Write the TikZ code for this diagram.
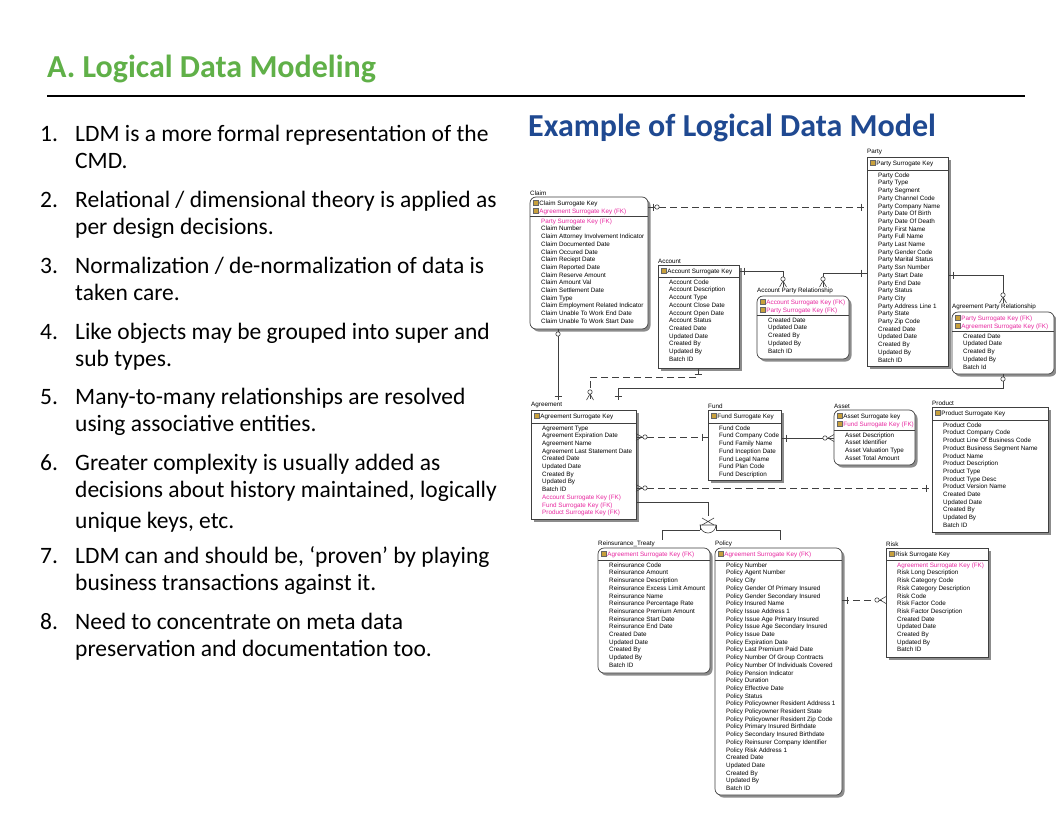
\documentclass[tikz,border=0pt]{standalone}
\usepackage{fontspec}
\setmainfont{Carlito}
\newfontfamily\erdf{Liberation Sans}
\definecolor{ttlgreen}{RGB}{96,176,72}
\definecolor{ttlblue}{RGB}{31,73,145}
\definecolor{fkpink}{RGB}{232,40,160}
\definecolor{keyc}{RGB}{200,160,60}
\tikzset{
 ebox/.style={draw=black!75,line width=0.7pt,fill=white},
 eshadow/.style={fill=black!45,draw=none},
 etxt/.style={anchor=north west,inner sep=0pt,align=left,font=\erdf\fontsize{6.3}{7.7}\selectfont},
 ettl/.style={anchor=south west,inner sep=0pt,font=\erdf\fontsize{6.3}{7.7}\selectfont},
 rel/.style={line width=0.6pt,black!75},
 reld/.style={rel,dash pattern=on 7pt off 4pt},
 item/.style={anchor=base west,inner sep=0pt,font=\fontsize{23.5}{26}\selectfont},
}
\newcommand\kk{\tikz[baseline=0pt]\fill[keyc,draw=black!60,line width=0.2pt](0,0) rectangle (5pt,5pt);\,}
\newcommand\fk[1]{\textcolor{fkpink}{#1}}
% #1 name #2 title #3 x1 #4 y1 #5 x2 #6 y2 #7 ydiv #8 keys #9 attrs
\newcommand\ent[9]{%
 \fill[eshadow,rounded corners=\ecr] (#3+2.5,#4+2.5) rectangle (#5+2.5,#6+2.5);
 \draw[ebox,rounded corners=\ecr] (#3,#4) rectangle (#5,#6);
 \draw[ebox] (#3,#7) -- (#5,#7);
 \node[ettl] (#1t) at (#3,#4-1.5) {#2};
 \node[etxt] (#1k) at (#3+3,#4+3) {#8};
 \node[etxt] (#1a) at (#3+11,#7+2.5) {#9};
}
\def\ecr{0pt}
\newcommand\mbH[2]{\draw[rel] (#1,#2-3.5) -- (#1,#2+3.5);}
\newcommand\mbV[2]{\draw[rel] (#1-3.5,#2) -- (#1+3.5,#2);}
\newcommand\zc[2]{\draw[rel,fill=white] (#1,#2) circle (2.2);}
\newcommand\crR[2]{\draw[rel] (#1-6,#2) -- (#1,#2-3.5) (#1-6,#2) -- (#1,#2+3.5);}
\newcommand\crL[2]{\draw[rel] (#1+6,#2) -- (#1,#2-3.5) (#1+6,#2) -- (#1,#2+3.5);}
\newcommand\crD[2]{\draw[rel] (#1,#2-6) -- (#1-3.5,#2) (#1,#2-6) -- (#1+3.5,#2);}
\begin{document}
\begin{tikzpicture}[x=1pt,y=-1pt]
\useasboundingbox (0,0) rectangle (1056,816);
\fill[white] (0,0) rectangle (1056,816);
% titles
\node[anchor=base west,inner sep=0pt,text=ttlgreen,font=\bfseries\fontsize{32}{36}\selectfont] (ttl) at (47,77) {A. Logical Data Modeling};
\draw[line width=2.6pt] (47,96) -- (1025,96);
\node[anchor=base west,inner sep=0pt,text=ttlblue,font=\bfseries\fontsize{32}{36}\selectfont] (sub) at (528,136) {Example of Logical Data Model};
% list
\foreach \n/\y/\t in {1./141/{LDM is a more formal representation of the}, /168/CMD., 2./207/{Relational / dimensional theory is applied as}, /234/{per design decisions.}, 3./273/{Normalization / de-normalization of data is}, /300/{taken care.}, 4./339/{Like objects may be grouped into super and}, /366/sub types., 5./404/{Many-to-many relationships are resolved}, /431/{using associative entities.}, 6./470/{Greater complexity is usually added as}, /497/{decisions about history maintained, logically}, /528/{unique keys, etc.}, 7./563/{LDM can and should be, ‘proven’ by playing}, /590/{business transactions against it.}, 8./629/{Need to concentrate on meta data}, /656/{preservation and documentation too.}}{
 \node[item] at (40,\y) {\n};
 \node[item] at (75,\y) {\t};
}
% entities
\def\ecr{6pt}
\ent{claim}{Claim}{530}{197}{648}{329}{216}{\kk Claim Surrogate Key\\\kk\fk{Agreement Surrogate Key (FK)}}{\fk{Party Surrogate Key (FK)}\\Claim Number\\Claim Attorney Involvement Indicator\\Claim Documented Date\\Claim Occured Date\\Claim Reciept Date\\Claim Reported Date\\Claim Reserve Amount\\Claim Amount Val\\Claim Settlement Date\\Claim Type\\Claim Employment Related Indicator\\Claim Unable To Work End Date\\Claim Unable To Work Start Date}
\def\ecr{0pt}
\ent{acc}{Account}{658}{265}{739}{368}{277}{\kk Account Surrogate Key}{Account Code\\Account Description\\Account Type\\Account Close Date\\Account Open Date\\Account Status\\Created Date\\Updated Date\\Created By\\Updated By\\Batch ID}
\def\ecr{6pt}
\ent{apr}{Account Party Relationship}{757}{296}{849}{359}{315}{\kk\fk{Account Surrogate Key (FK)}\\\kk\fk{Party Surrogate Key (FK)}}{Created Date\\Updated Date\\Created By\\Updated By\\Batch ID}
\def\ecr{0pt}
\ent{party}{Party}{867}{157}{948}{366}{170}{\kk Party Surrogate Key}{Party Code\\Party Type\\Party Segment\\Party Channel Code\\Party Company Name\\Party Date Of Birth\\Party Date Of Death\\Party First Name\\Party Full Name\\Party Last Name\\Party Gender Code\\Party Marital Status\\Party Ssn Number\\Party Start Date\\Party End Date\\Party Status\\Party City\\Party Address Line 1\\Party State\\Party Zip Code\\Created Date\\Updated Date\\Created By\\Updated By\\Batch ID}
\def\ecr{6pt}
\ent{agpr}{Agreement Party Relationship}{952}{312}{1054}{374}{331}{\kk\fk{Party Surrogate Key (FK)}\\\kk\fk{Agreement Surrogate Key (FK)}}{Created Date\\Updated Date\\Created By\\Updated By\\Batch Id}
\def\ecr{0pt}
\ent{agr}{Agreement}{531}{410}{636}{519}{423}{\kk Agreement Surrogate Key}{Agreement Type\\Agreement Expiration Date\\Agreement Name\\Agreement Last Statement Date\\Created Date\\Updated Date\\Created By\\Updated By\\Batch ID\\\fk{Account Surrogate Key (FK)}\\\fk{Fund Surrogate Key (FK)}\\\fk{Product Surrogate Key (FK)}}
\ent{fund}{Fund}{708}{410}{781}{480}{423}{\kk Fund Surrogate Key}{Fund Code\\Fund Company Code\\Fund Family Name\\Fund Inception Date\\Fund Legal Name\\Fund Plan Code\\Fund Description}
\def\ecr{6pt}
\ent{asset}{Asset}{834}{410}{915}{465}{430}{\kk Asset Surrogate key\\\kk\fk{Fund Surrogate Key (FK)}}{Asset Description\\Asset Identifier\\Asset Valuation Type\\Asset Total Amount}
\def\ecr{0pt}
\ent{prod}{Product}{932}{407}{1048}{532}{420}{\kk Product Surrogate Key}{Product Code\\Product Company Code\\Product Line Of Business Code\\Product Business Segment Name\\Product Name\\Product Description\\Product Type\\Product Type Desc\\Product Version Name\\Created Date\\Updated Date\\Created By\\Updated By\\Batch ID}
\def\ecr{6pt}
\ent{reins}{Reinsurance\_Treaty}{598}{548}{710}{673}{560}{\kk\fk{Agreement Surrogate Key (FK)}}{Reinsurance Code\\Reinsurance Amount\\Reinsurance Description\\Reinsurance Excess Limit Amount\\Reinsurance Name\\Reinsurance Percentage Rate\\Reinsurance Premium Amount\\Reinsurance Start Date\\Reinsurance End Date\\Created Date\\Updated Date\\Created By\\Updated By\\Batch ID}
\ent{pol}{Policy}{715}{548}{842}{795}{560}{\kk\fk{Agreement Surrogate Key (FK)}}{Policy Number\\Policy Agent Number\\Policy City\\Policy Gender Of Primary Insured\\Policy Gender Secondary Insured\\Policy Insured Name\\Policy Issue Address 1\\Policy Issue Age Primary Insured\\Policy Issue Age Secondary Insured\\Policy Issue Date\\Policy Expiration Date\\Policy Last Premium Paid Date\\Policy Number Of Group Contracts\\Policy Number Of Individuals Covered\\Policy Pension Indicator\\Policy Duration\\Policy Effective Date\\Policy Status\\Policy Policyowner Resident Address 1\\Policy Policyowner Resident State\\Policy Policyowner Resident Zip Code\\Policy Primary Insured Birthdate\\Policy Secondary Insured Birthdate\\Policy Reinsurer Company Identifier\\Policy Risk Address 1\\Created Date\\Updated Date\\Created By\\Updated By\\Batch ID}
\def\ecr{0pt}
\ent{risk}{Risk}{886}{548}{988}{657}{560}{\kk Risk Surrogate Key}{\fk{Agreement Surrogate Key (FK)}\\Risk Long Description\\Risk Category Code\\Risk Category Description\\Risk Code\\Risk Factor Code\\Risk Factor Description\\Created Date\\Updated Date\\Created By\\Updated By\\Batch ID}
% relationships
\draw[reld] (648,207) -- (867,207); \mbH{653}{207}\zc{657}{207}\mbH{861}{207}
\draw[rel] (558,329) -- (558,400); \zc{558}{334} \mbV{558}{396}
\draw[reld] (698,368) -- (698,377) -- (590,377) -- (590,400); \mbV{698}{374}\crD{590}{400}\zc{590}{392}
\draw[rel] (739,271) -- (783,271) -- (783,287); \mbH{744}{271}\crD{783}{287}\zc{783}{279}
\draw[rel] (867,273) -- (823,273) -- (823,287); \mbH{861}{273}\crD{823}{287}\zc{823}{279}
\draw[rel] (948,275) -- (1003,275) -- (1003,303); \mbH{953}{275}\crD{1003}{303}\zc{1003}{295}
\draw[rel] (1003,374) -- (1003,388) -- (618,388) -- (618,400); \zc{1003}{379}\mbV{618}{396}
\draw[reld] (636,437) -- (708,437); \crL{636}{437}\zc{645}{437}\mbH{702}{437}
\draw[rel] (781,438) -- (834,438); \mbH{786}{438}\crR{834}{438}\zc{825}{438}
\draw[reld] (636,488) -- (932,488); \crL{636}{488}\zc{645}{488}\mbH{926}{488}
\draw[rel] (636,502) -- (708,502) -- (708,516);
\draw[rel,fill=white] (700,525) arc (180:0:8) -- cycle;
\draw[rel] (702,518) -- (714,525) (714,518) -- (702,525);
\draw[rel] (700,530) -- (662,530) -- (662,540) (716,530) -- (780,530) -- (780,540);
\draw[rel] (700,525) -- (700,530) (716,525) -- (716,530);
\draw[reld] (842,600) -- (886,600); \mbH{847}{600}\crR{886}{600}\zc{877}{600}
\end{tikzpicture}
\end{document}
